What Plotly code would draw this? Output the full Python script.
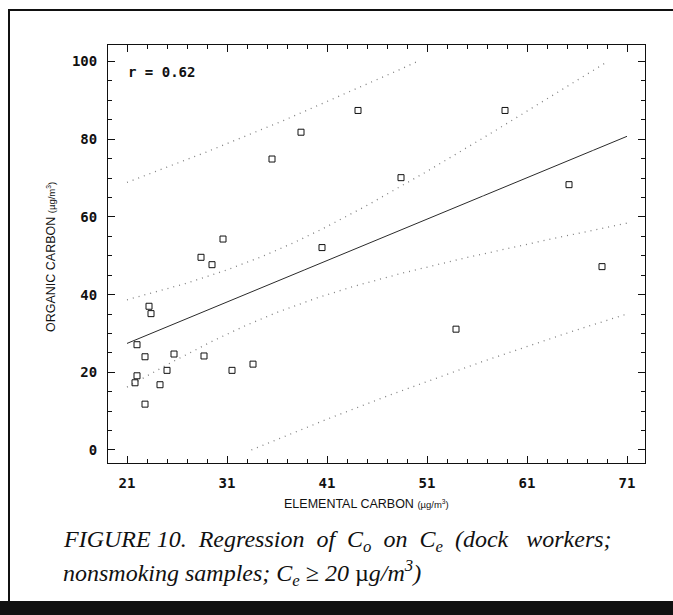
import numpy as np
import plotly.graph_objects as go

# Elemental vs organic carbon, dock workers, nonsmoking samples (µg/m³)
elemental = [22.0, 22.8, 22.0, 21.8, 22.8, 23.2, 23.4, 24.3, 25.0, 25.7,
             28.4, 29.5, 28.7, 30.6, 31.5, 33.6, 35.5, 38.4, 40.5, 44.1,
             48.4, 53.9, 58.8, 65.2, 68.5]
organic = [27.1, 24.0, 19.1, 17.3, 11.8, 37.0, 35.1, 16.8, 20.5, 24.7,
           49.6, 47.7, 24.2, 54.3, 20.5, 22.1, 74.9, 81.8, 52.1, 87.4,
           70.1, 31.1, 87.4, 68.3, 47.2]
x_ticks = [21, 31, 41, 51, 61, 71]
y_ticks = [0, 20, 40, 60, 80, 100]
fit_span = [21, 71]
band_limits = [0, 100]
r_label = "r = 0.62"
t_crit = 2.069  # Student t, 95 %, 23 degrees of freedom

# ---- least-squares fit with confidence / prediction bands ----
xa = np.array(elemental)
ya = np.array(organic)
n = len(xa)
slope, intercept = np.polyfit(xa, ya, 1)
resid = ya - (intercept + slope * xa)
s = np.sqrt(np.sum(resid ** 2) / (n - 2))
mx = xa.mean()
sxx = np.sum((xa - mx) ** 2)

grid = np.linspace(fit_span[0], fit_span[1], 600)
fit = intercept + slope * grid
conf = t_crit * s * np.sqrt(1 / n + (grid - mx) ** 2 / sxx)
pred = t_crit * s * np.sqrt(1 + 1 / n + (grid - mx) ** 2 / sxx)


def clip(v):
    v = v.copy()
    v[(v < band_limits[0]) | (v > band_limits[1])] = np.nan
    return v


W, H = 673, 615
L, R, T, B = 108, 28, 45, 152
pw, ph = W - L - R, H - T - B


def px(xp):
    return (xp - L) / pw


def py(yp):
    return (H - B - yp) / ph


fig = go.Figure()

dot_style = dict(color="#808080", width=1.3, dash="1px,5px")
for band in (fit + pred, fit - pred, fit + conf, fit - conf):
    fig.add_trace(go.Scatter(x=grid, y=clip(band), mode="lines",
                             line=dot_style, hoverinfo="skip",
                             connectgaps=False, showlegend=False))

fig.add_trace(go.Scatter(x=grid, y=fit, mode="lines",
                         line=dict(color="#2a2a2a", width=1),
                         showlegend=False))

fig.add_trace(go.Scatter(x=elemental, y=organic, mode="markers",
                         marker=dict(symbol="square-open", size=6,
                                     color="#111",
                                     line=dict(width=1, color="#111")),
                         showlegend=False))

tick_font = dict(family="DejaVu Sans Mono", size=14, color="#111",
                 weight="bold")

fig.update_xaxes(range=[19.1, 72.8], tickvals=x_ticks,
                 ticktext=[str(v) for v in x_ticks],
                 ticks="inside", ticklen=7, tickwidth=1, tickcolor="#111",
                 minor=dict(dtick=2, tick0=21, ticks="inside", ticklen=4,
                            tickcolor="#111", tickwidth=1),
                 showline=True, linecolor="#111", linewidth=1,
                 mirror="allticks", showgrid=False, zeroline=False,
                 tickfont=tick_font, ticklabelstandoff=7)
fig.update_yaxes(range=[-3.35, 104.25], tickvals=y_ticks,
                 ticktext=[str(v) for v in y_ticks],
                 ticks="inside", ticklen=7, tickwidth=1, tickcolor="#111",
                 minor=dict(dtick=5, tick0=0, ticks="inside", ticklen=4,
                            tickcolor="#111", tickwidth=1),
                 showline=True, linecolor="#111", linewidth=1,
                 mirror="allticks", showgrid=False, zeroline=False,
                 tickfont=tick_font, ticklabelstandoff=7)

unit_html = "<span style='font-size:9.5px'>(µg/m<sup>3</sup>)</span>"
caption_font = dict(family="Liberation Serif", size=24, color="#111",
                    style="italic")

annotations = [
    dict(x=px(126), y=py(72), xref="paper", yref="paper", xanchor="left",
         yanchor="middle", text=r_label, showarrow=False,
         font=dict(family="DejaVu Sans Mono", size=14, color="#111",
                   weight="bold")),
    dict(x=px(366), y=py(504), xref="paper", yref="paper", xanchor="center",
         yanchor="middle", showarrow=False,
         text="ELEMENTAL CARBON " + unit_html,
         font=dict(family="Liberation Sans", size=12.5, color="#111")),
    dict(x=px(51), y=py(257), xref="paper", yref="paper", xanchor="center",
         yanchor="middle", showarrow=False, textangle=-90,
         text="ORGANIC CARBON " + unit_html,
         font=dict(family="Liberation Sans", size=12.5, color="#111")),
    dict(x=px(61), y=py(541), xref="paper", yref="paper", xanchor="left",
         yanchor="middle", showarrow=False,
         text="FIGURE 10.&nbsp; Regression&nbsp; of&nbsp; C<sub>o</sub>&nbsp; on&nbsp; "
              "C<sub>e</sub>&nbsp; (dock&nbsp;&nbsp; workers;",
         font=caption_font),
    dict(x=px(61), y=py(573), xref="paper", yref="paper", xanchor="left",
         yanchor="middle", showarrow=False,
         text="nonsmoking samples; C<sub>e</sub> ≥ 20 <span style='font-style:normal'>µ</span>g/m<sup>3</sup>)",
         font=caption_font),
]

shapes = [
    # figure frame: top rule, left rule and heavy bottom band
    dict(type="line", xref="paper", yref="paper", x0=px(8), x1=px(673),
         y0=py(10), y1=py(10), line=dict(color="#111", width=2)),
    dict(type="line", xref="paper", yref="paper", x0=px(9), x1=px(9),
         y0=py(10), y1=py(604), line=dict(color="#111", width=2)),
    dict(type="rect", xref="paper", yref="paper", x0=px(0), x1=px(673),
         y0=py(601), y1=py(615), fillcolor="#111", line=dict(width=0)),
]

fig.update_layout(width=W, height=H,
                  margin=dict(l=L, r=R, t=T, b=B, autoexpand=False),
                  paper_bgcolor="white", plot_bgcolor="white",
                  annotations=annotations, shapes=shapes,
                  showlegend=False)

fig.write_html("out.html")
